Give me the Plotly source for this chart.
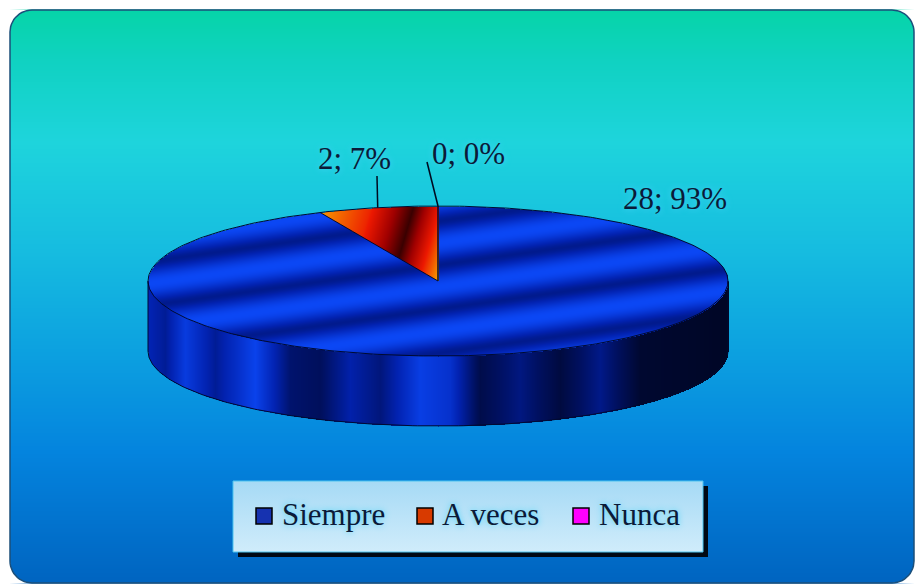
import numpy as np
import plotly.graph_objects as go

# ---------------- data ----------------
categories = ["Siempre", "A veces", "Nunca"]
values = [28, 2, 0]
legend_colors = ["#1632B0", "#D83A00", "#FF00FF"]

total = sum(values)
percents = [round(100 * v / total) for v in values]
labels = [f"{v}; {p}%" for v, p in zip(values, percents)]

# ---------------- layout constants ----------------
W, H = 917, 585
CX, CY, RX, RY, DEPTH = 438, 281, 290, 75, 70
FONT = "Liberation Serif, Tinos, DejaVu Serif, Times New Roman, serif"
FSIZE = 31
TXT = "#0B1A38"
GLOW = "0px 0px 6px #45D2F5"
FX0, FY0, FX1, FY1, FR = 10, 10, 914, 583, 22

# slice angles (counter-clockwise from 12 o'clock, reversed order like Excel)
angles = {}
start = 90.0
for cat, v in zip(reversed(categories), reversed(values)):
    a1 = start + 360.0 * v / total
    angles[cat] = (start, a1)
    start = a1

def slice_of(theta):
    for i, cat in enumerate(categories):
        a0, a1 = angles[cat]
        if a1 - a0 <= 0:
            continue
        if ((theta - a0) % 360.0) < (a1 - a0):
            return i
    return 0

fig = go.Figure()

# ---------------- background gradient (heatmap, drawn below scatter) ----------------
bg_y = np.arange(FY0, FY1 + 1)
bg_frac = (bg_y - FY0) / (FY1 - FY0)
fig.add_trace(go.Heatmap(
    x=[FX0, FX1], y=np.append(bg_y - 0.5, FY1 + 0.5), z=bg_frac.reshape(-1, 1),
    zmin=0, zmax=1, showscale=False, hoverinfo="skip", zsmooth=False,
    colorscale=[[0.0, "#06D4A8"], [0.09, "#10D2C2"], [0.23, "#1ED4DC"],
                [0.42, "#16BCE0"], [0.6, "#0CA0E0"], [0.77, "#0484DE"],
                [1.0, "#0064C0"]]))

# ---------------- 3D pie texture (heatmap) ----------------
xs = np.arange(CX - RX - 2, CX + RX + 3)
ys = np.arange(CY - RY - 2, CY + RY + DEPTH + 3)
XX, YY = np.meshgrid(xs, ys)
U = (XX - CX) / RX
Wv = -(YY - CY) / RY
Z = np.full(XX.shape, np.nan)

side_x = [148, 165, 185, 215, 255, 290, 320, 350, 380, 420, 450, 480, 520, 560, 600, 640, 728]
side_v = [0.62, 0.5, 0.85, 0.5, 0.92, 0.35, 0.28, 0.58, 0.4, 0.88, 0.75, 0.2, 0.42, 0.15, 0.45, 0.08, 0.03]

top_mask = (U ** 2 + Wv ** 2) <= 1.0
theta = np.degrees(np.arctan2(Wv, U)) % 360.0
slice_idx = np.vectorize(slice_of)(theta)

phase = (YY + 0.14 * XX - 304.0) / 44.0
band = 0.5 + 0.5 * np.cos(2 * np.pi * phase)
top_blue = 0.47 + 0.5 * band ** 0.8
d = XX + 0.29 * YY
red_v = np.interp(d, [385, 430, 473, 500, 522], [0.12, 0.42, 1.0, 0.45, 0.0])

m_siempre = top_mask & (slice_idx == 0)
m_aveces = top_mask & (slice_idx == 1)
Z[m_siempre] = top_blue[m_siempre]
Z[m_aveces] = 2.0 + red_v[m_aveces]

inside_x = np.abs(U) <= 1.0
front_y = CY + RY * np.sqrt(np.clip(1 - U ** 2, 0, None))
side_mask = inside_x & (YY > front_y) & (YY <= front_y + DEPTH)
side_vals = np.interp(XX, side_x, side_v)
Z[side_mask] = side_vals[side_mask]

colorscale = [[0.0, "#00051F"], [0.1, "#001060"], [0.2, "#0222B0"],
              [0.3333, "#0C4AFA"], [0.6667, "#F8C000"], [0.72, "#F58000"],
              [0.82, "#EC1800"], [0.92, "#A00000"], [1.0, "#3A0000"]]
fig.add_trace(go.Heatmap(x=xs, y=ys, z=Z, zmin=0, zmax=3, colorscale=colorscale,
                         showscale=False, hoverinfo="skip", zsmooth=False))

# ---------------- rounded corners of frame (white) + frame outline ----------------
def arc(cx, cy, r, a0, a1, n=14):
    t = np.radians(np.linspace(a0, a1, n))
    return list(cx + r * np.cos(t)), list(cy + r * np.sin(t))

corner_defs = [((FX1 - FR, FY0 + FR), (FX1 + 1, FY0 - 1), -90, 0),
               ((FX1 - FR, FY1 - FR), (FX1 + 1, FY1 + 1), 0, 90),
               ((FX0 + FR, FY1 - FR), (FX0 - 1, FY1 + 1), 90, 180),
               ((FX0 + FR, FY0 + FR), (FX0 - 1, FY0 - 1), 180, 270)]
for (ccx, ccy), (ox, oy), a0, a1 in corner_defs:
    ax, ay = arc(ccx, ccy, FR, a0, a1)
    fig.add_trace(go.Scatter(x=ax + [ox, ax[0]], y=ay + [oy, ay[0]], mode="lines", fill="toself",
                             fillcolor="white", line=dict(width=0, color="white"),
                             hoverinfo="skip", showlegend=False))
fx, fy = [], []
for (ccx, ccy), _, a0, a1 in corner_defs:
    ax, ay = arc(ccx, ccy, FR, a0, a1)
    fx += ax; fy += ay
fx.append(fx[0]); fy.append(fy[0])
fig.add_trace(go.Scatter(x=fx, y=fy, mode="lines", line=dict(color="#1B4F7A", width=1.5),
                         hoverinfo="skip", showlegend=False))

# ---------------- outlines ----------------
OUT = "#000A30"
t = np.linspace(0, 2 * np.pi, 400)
fig.add_trace(go.Scatter(x=CX + RX * np.cos(t), y=CY - RY * np.sin(t), mode="lines",
                         line=dict(color=OUT, width=1), hoverinfo="skip", showlegend=False))
tb = np.linspace(np.pi, 2 * np.pi, 200)
fig.add_trace(go.Scatter(x=CX + RX * np.cos(tb), y=CY - RY * np.sin(tb) + DEPTH, mode="lines",
                         line=dict(color=OUT, width=1), hoverinfo="skip", showlegend=False))
for sx in (CX - RX, CX + RX):
    fig.add_trace(go.Scatter(x=[sx, sx], y=[CY, CY + DEPTH], mode="lines",
                             line=dict(color=OUT, width=1), hoverinfo="skip", showlegend=False))
boundaries = sorted({a for cat, v in zip(categories, values) if v > 0 for a in angles[cat]})
for a in boundaries:
    r = np.radians(a)
    fig.add_trace(go.Scatter(x=[CX, CX + RX * np.cos(r)], y=[CY, CY - RY * np.sin(r)], mode="lines",
                             line=dict(color=OUT, width=1), hoverinfo="skip", showlegend=False))

# ---------------- data labels ----------------
label_pos = {"Siempre": (675, 198), "A veces": (354, 158), "Nunca": (468, 153)}
leader_end = {"A veces": (377, 176), "Nunca": (427, 162)}
annotations = []
for cat, lab in zip(categories, labels):
    lx, ly = label_pos[cat]
    annotations.append(dict(x=lx, y=ly, text=lab, showarrow=False, xanchor="center", yanchor="middle",
                            font=dict(family=FONT, size=FSIZE, color=TXT, shadow=GLOW)))
    if cat in leader_end:
        a0, a1 = angles[cat]
        am = np.radians((a0 + a1) / 2)
        px, py = CX + RX * np.cos(am), CY - RY * np.sin(am)
        ex, ey = leader_end[cat]
        fig.add_trace(go.Scatter(x=[px, ex], y=[py, ey], mode="lines",
                                 line=dict(color="#000A20", width=1.5),
                                 hoverinfo="skip", showlegend=False))

# ---------------- legend ----------------
LX0, LY0, LX1, LY1 = 233, 481, 703, 552
fig.add_trace(go.Scatter(x=[LX0 + 5, LX1 + 5, LX1 + 5, LX0 + 5, LX0 + 5],
                         y=[LY0 + 5, LY0 + 5, LY1 + 5, LY1 + 5, LY0 + 5],
                         mode="lines", fill="toself", fillcolor="#000814",
                         line=dict(width=0, color="#000814"), hoverinfo="skip", showlegend=False))
fig.add_trace(go.Scatter(x=[LX0, LX1, LX1, LX0, LX0], y=[LY0, LY0, LY1, LY1, LY0],
                         mode="lines", fill="toself",
                         fillgradient=dict(type="vertical", start=LY0, stop=LY1,
                                           colorscale=[[0, "#A6DAF5"], [1, "#D0ECFB"]]),
                         line=dict(width=1, color="#4CC4F0"), hoverinfo="skip", showlegend=False))

legend_sw_x = [256, 417, 573]
legend_txt_x = [280, 440, 597]
shapes = []
for i, cat in enumerate(categories):
    sx = legend_sw_x[i]
    shapes.append(dict(type="rect", x0=sx, x1=sx + 16, y0=508, y1=524,
                       fillcolor=legend_colors[i], line=dict(color="#000000", width=1.5)))
    annotations.append(dict(x=legend_txt_x[i], y=514, text=cat, showarrow=False,
                            xanchor="left", yanchor="middle",
                            font=dict(family=FONT, size=FSIZE, color=TXT, shadow=GLOW)))

fig.update_layout(
    width=W, height=H, margin=dict(l=0, r=0, t=0, b=0),
    paper_bgcolor="white", plot_bgcolor="white", showlegend=False,
    xaxis=dict(range=[0, W], visible=False, fixedrange=True),
    yaxis=dict(range=[H, 0], visible=False, fixedrange=True),
    shapes=shapes, annotations=annotations,
)

fig.write_html("out.html")
